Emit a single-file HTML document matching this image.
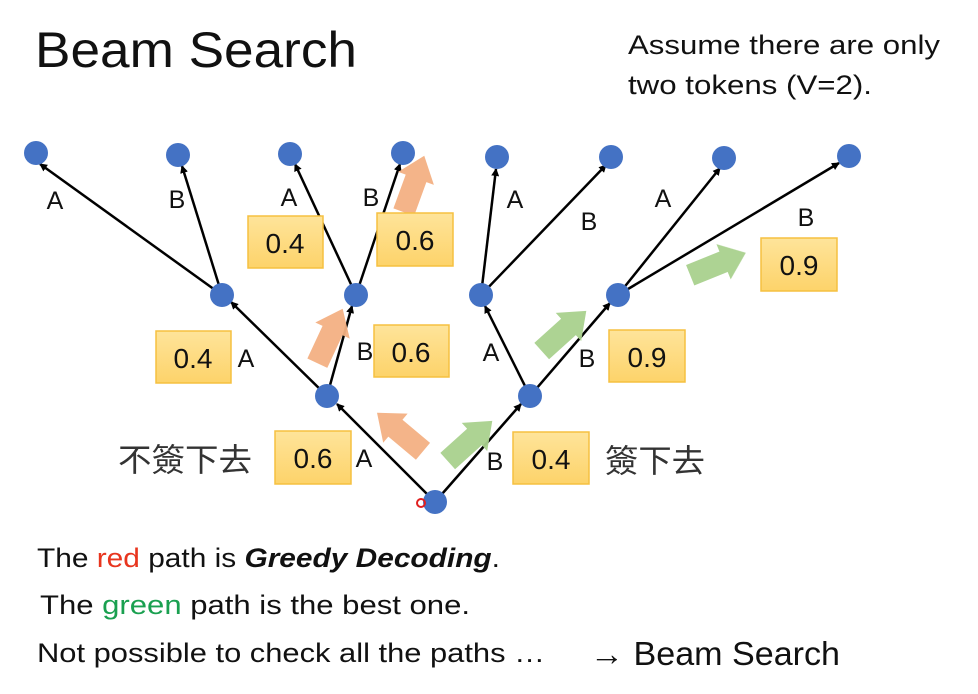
<!DOCTYPE html>
<html><head><meta charset="utf-8"><style>
body{margin:0;background:#fff;}
svg{display:block}
text{font-family:"Liberation Sans","Noto Sans CJK TC",sans-serif;}
</style></head><body>
<svg width="978" height="694" viewBox="0 0 978 694">
<defs>
<marker id="ah" markerWidth="8" markerHeight="8" refX="7" refY="4" orient="auto" markerUnits="userSpaceOnUse"><path d="M0,0 L8,4 L0,8 z" fill="#000"/></marker>
<linearGradient id="bg" x1="0" y1="0" x2="0" y2="1"><stop offset="0" stop-color="#fee49a"/><stop offset="1" stop-color="#fdd36a"/></linearGradient>
<polygon id="fa" points="-30,-11 6,-11 6,-19 30,0 6,19 6,11 -30,11"/>
</defs>
<rect width="978" height="694" fill="#fff"/>
<text x="35" y="67" font-size="50" fill="#111" textLength="322" lengthAdjust="spacingAndGlyphs">Beam Search</text>
<text x="628" y="54" font-size="27" fill="#111" textLength="312" lengthAdjust="spacingAndGlyphs">Assume there are only</text>
<text x="628" y="94" font-size="27" fill="#111" textLength="244" lengthAdjust="spacingAndGlyphs">two tokens (V=2).</text>

<g stroke="#000" stroke-width="2.5" marker-end="url(#ah)">
<line x1="435" y1="502" x2="337" y2="404"/>
<line x1="435" y1="502" x2="521" y2="404"/>
<line x1="327" y1="396" x2="231" y2="302"/>
<line x1="327" y1="396" x2="352" y2="306"/>
<line x1="530" y1="396" x2="485" y2="306"/>
<line x1="530" y1="396" x2="610" y2="303"/>
<line x1="222" y1="295" x2="40" y2="164"/>
<line x1="222" y1="295" x2="182" y2="166"/>
<line x1="356" y1="295" x2="295" y2="164"/>
<line x1="356" y1="295" x2="400" y2="164"/>
<line x1="481" y1="295" x2="496" y2="169"/>
<line x1="481" y1="295" x2="606" y2="165"/>
<line x1="618" y1="295" x2="720" y2="168"/>
<line x1="618" y1="295" x2="839" y2="163"/>
</g>

<g fill="#4472c4">
<circle cx="435" cy="502" r="12"/>
<circle cx="327" cy="396" r="12"/><circle cx="530" cy="396" r="12"/>
<circle cx="222" cy="295" r="12"/><circle cx="356" cy="295" r="12"/><circle cx="481" cy="295" r="12"/><circle cx="618" cy="295" r="12"/>
<circle cx="36" cy="153" r="12"/><circle cx="178" cy="155" r="12"/><circle cx="290" cy="154" r="12"/><circle cx="403" cy="153" r="12"/>
<circle cx="497" cy="157" r="12"/><circle cx="611" cy="157" r="12"/><circle cx="724" cy="158" r="12"/><circle cx="849" cy="156" r="12"/>
</g>
<circle cx="421" cy="503" r="4" fill="none" stroke="#e02020" stroke-width="2"/>

<g fill="#f4b183" opacity="0.95">
<use href="#fa" transform="translate(400,432) rotate(-140)"/>
<use href="#fa" transform="translate(330,336) rotate(-65)"/>
<use href="#fa" transform="translate(414,184) rotate(-70)"/>
</g>
<g fill="#a9d18e" opacity="0.95">
<use href="#fa" transform="translate(470,441) rotate(-42)"/>
<use href="#fa" transform="translate(564,331) rotate(-42)"/>
<use href="#fa" transform="translate(718,264) rotate(-22)"/>
</g>

<g fill="url(#bg)" stroke="#f5c040" stroke-width="1.5">
<rect x="248" y="216" width="75" height="52"/>
<rect x="377" y="213" width="76" height="53"/>
<rect x="156" y="331" width="75" height="52"/>
<rect x="374" y="325" width="75" height="52"/>
<rect x="275" y="431" width="76" height="53"/>
<rect x="513" y="432" width="76" height="52"/>
<rect x="609" y="330" width="76" height="52"/>
<rect x="761" y="238" width="76" height="53"/>
</g>
<g font-size="28" fill="#111" text-anchor="middle">
<text x="285" y="253">0.4</text>
<text x="415" y="250">0.6</text>
<text x="193" y="368">0.4</text>
<text x="411" y="362">0.6</text>
<text x="313" y="468">0.6</text>
<text x="551" y="469">0.4</text>
<text x="647" y="367">0.9</text>
<text x="799" y="275">0.9</text>
</g>
<g font-size="25" fill="#111" text-anchor="middle">
<text x="55" y="209">A</text>
<text x="177" y="208">B</text>
<text x="289" y="206">A</text>
<text x="371" y="206">B</text>
<text x="246" y="367">A</text>
<text x="365" y="360">B</text>
<text x="364" y="467">A</text>
<text x="495" y="470">B</text>
<text x="491" y="361">A</text>
<text x="587" y="367">B</text>
<text x="515" y="208">A</text>
<text x="589" y="230">B</text>
<text x="663" y="207">A</text>
<text x="806" y="226">B</text>
</g>
<text x="118" y="471" font-size="32" fill="#333" textLength="134" lengthAdjust="spacingAndGlyphs">不簽下去</text>
<text x="605" y="472" font-size="32" fill="#333" textLength="100" lengthAdjust="spacingAndGlyphs">簽下去</text>

<text x="37" y="567" font-size="27" fill="#111" textLength="463" lengthAdjust="spacingAndGlyphs">The <tspan fill="#e8351e">red</tspan> path is <tspan font-weight="bold" font-style="italic">Greedy Decoding</tspan>.</text>
<text x="40" y="614" font-size="27" fill="#111" textLength="430" lengthAdjust="spacingAndGlyphs">The <tspan fill="#1aa050">green</tspan> path is the best one.</text>
<text x="37" y="662" font-size="27" fill="#111" textLength="508" lengthAdjust="spacingAndGlyphs">Not possible to check all the paths …</text>
<text x="590" y="665" font-size="33" fill="#111" textLength="250" lengthAdjust="spacingAndGlyphs">→ Beam Search</text>
</svg>
</body></html>
